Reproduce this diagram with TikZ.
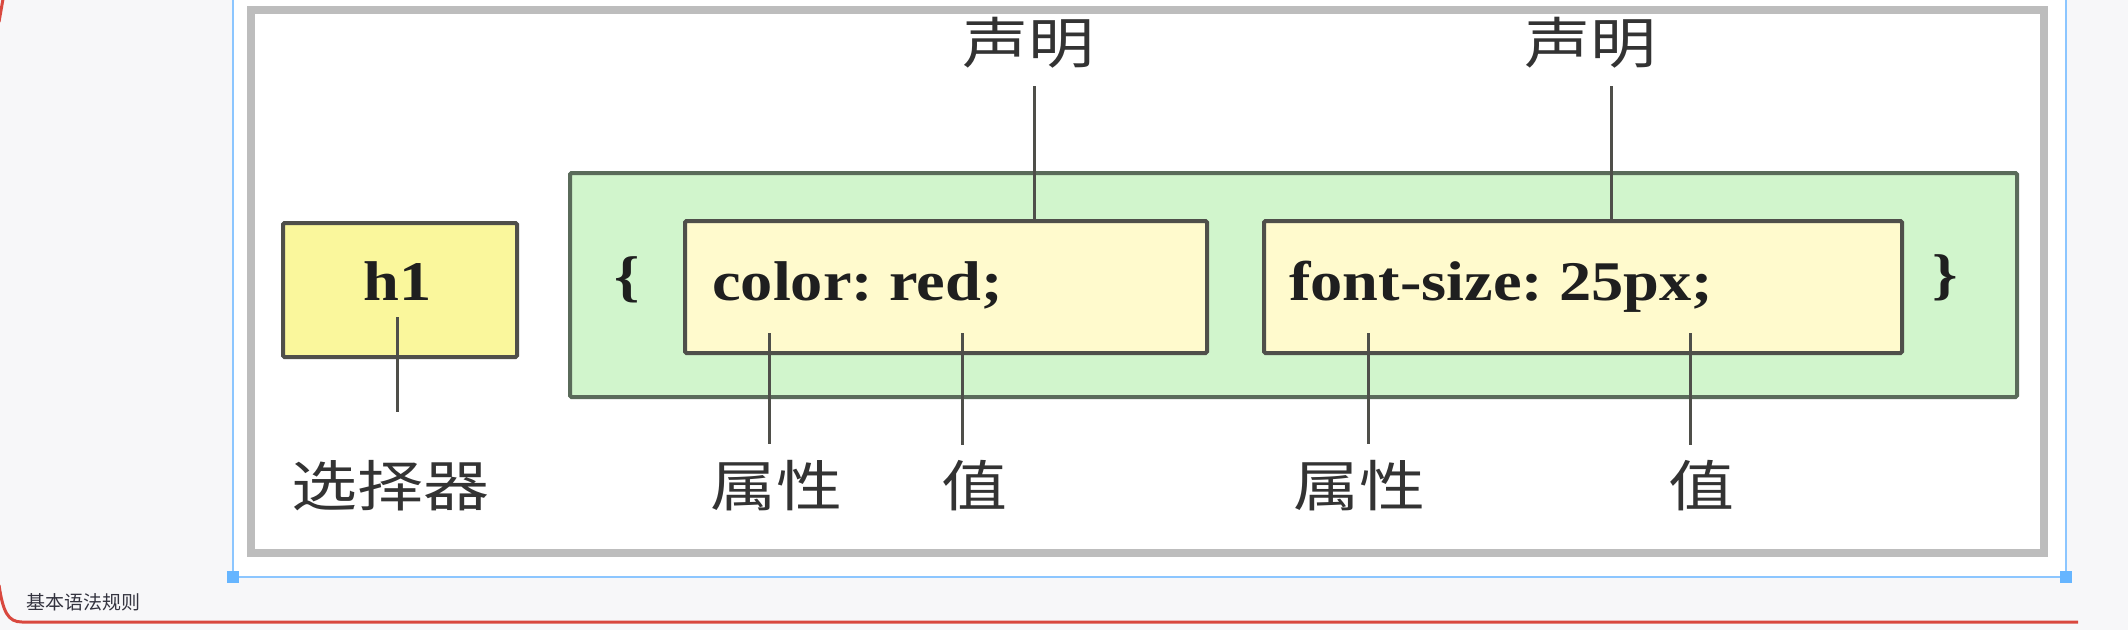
\documentclass[tikz,border=0pt]{standalone}
\usepackage{fontspec}
\newfontfamily\codefont{Liberation Serif}[FakeStretch=1.15]
\newfontfamily\cjk{Noto Sans CJK SC}[FakeStretch=1.2]
\newfontfamily\uifont{Noto Sans CJK SC}
\frenchspacing
\definecolor{pagebg}{HTML}{F7F7F9}
\definecolor{selblue}{HTML}{8CC6FF}
\definecolor{handleblue}{HTML}{66B5FF}
\definecolor{framegray}{HTML}{BDBDBD}
\definecolor{h1yellow}{HTML}{FAF79C}
\definecolor{declyellow}{HTML}{FFFACD}
\definecolor{rulegreen}{HTML}{D1F5CC}
\definecolor{rulegreenline}{HTML}{5A6B5A}
\definecolor{boxline}{HTML}{4F4F4A}
\definecolor{captionred}{HTML}{D9483F}
\definecolor{captiontext}{HTML}{33333F}
\begin{document}
\begin{tikzpicture}[x=1pt,y=-1pt]
	\def \declrow{43}
	\def \baserow{300}
	\def \labelrow{486}
	\tikzstyle{sel-box}=[draw=boxline,line width=4pt,fill=h1yellow,minimum width=234pt,minimum height=134pt,rounded corners=1.5pt]
	\tikzstyle{decl-box}=[draw=boxline,line width=4pt,fill=declyellow,minimum height=132pt,rounded corners=1.5pt]
	\tikzstyle{rule-box}=[draw=rulegreenline,line width=4pt,fill=rulegreen,minimum width=1447pt,minimum height=224pt,rounded corners=1.5pt]
	\tikzstyle{code-text}=[font=\codefont\bfseries\fontsize{56}{60}\selectfont,text=black!88,inner sep=0pt]
	\tikzstyle{annot}=[font=\cjk\fontsize{55}{60}\selectfont,text=black!80,inner sep=0pt]
	\tikzstyle{link}=[draw=boxline,line width=3pt]
	\useasboundingbox (0,0) rectangle (2128,630);
	% page and selection
	\fill[pagebg] (0,0) rectangle (2128,630);
	\fill[white] (233,0) rectangle (2066,577);
	\draw[selblue,line width=2pt] (233,0) -- (233,577) -- (2066,577) -- (2066,0);
	\fill[handleblue] (227,571) rectangle (239,583);
	\fill[handleblue] (2060,571) rectangle (2072,583);
	\draw[captionred,line width=3pt] (3,-1) .. controls (1,10) .. (-1,22);
	\draw[captionred,line width=3pt] (-1,585) .. controls (3,612) and (8,622) .. (22,622) -- (2078,622);
	\node[font=\uifont\fontsize{19}{22}\selectfont,text=captiontext,anchor=west,inner sep=0pt] (caption) at (26,602) {基本语法规则};
	\draw[framegray,line width=8pt,fill=white] (251,10) rectangle (2044,553);
	
	% boxes
	\node[rule-box] 	(rule)	at (1293.5,285)	{};
	\node[sel-box] 	(sel)	at (400,290)	{};
	\node[decl-box,minimum width=522pt] 	(decl1box)	at (946,287)	{};
	\node[decl-box,minimum width=638pt] 	(decl2box)	at (1583,287)	{};
	
	% code
	\node[code-text,anchor=base] 	(h1)	at (398,\baserow)	{h1};
	\node[code-text,anchor=base west] 	(decl1txt)	at (712,\baserow)	{color: red;};
	\node[code-text,anchor=base west] 	(decl2txt)	at (1289,\baserow)	{font-size: 25px;};
	\node[code-text] 	(lbrace)	at (627,280)	{\{};
	\node[code-text] 	(rbrace)	at (1945,278)	{\}};
	
	% labels
	\node[annot] 	(decl1)	at (1028,\declrow)	{声明};
	\node[annot] 	(decl2)	at (1590,\declrow)	{声明};
	\node[annot] 	(sel-label)	at (390,\labelrow)	{选择器};
	\node[annot] 	(prop1)	at (776,\labelrow)	{属性};
	\node[annot] 	(val1)	at (974,\labelrow)	{值};
	\node[annot] 	(prop2)	at (1359,\labelrow)	{属性};
	\node[annot] 	(val2)	at (1701,\labelrow)	{值};
	
	\coordinate (decl1top) at (1034,86);
	\coordinate (decl2top) at (1611,86);
	\coordinate (seltop) at (397,317);
	\coordinate (prop1top) at (769,333);
	\coordinate (val1top) at (962,333);
	\coordinate (prop2top) at (1368,333);
	\coordinate (val2top) at (1690,333);
	
	\path[link]
		(decl1top)	edge	(decl1top |- decl1box.north)
		(decl2top)	edge	(decl2top |- decl2box.north)
		(seltop)	edge[shorten >=48pt]	(seltop |- sel-label.north)
		(prop1top)	edge[shorten >=16pt]	(prop1top |- prop1.north)
		(val1top)	edge[shorten >=16pt]	(val1top |- val1.north)
		(prop2top)	edge[shorten >=16pt]	(prop2top |- prop2.north)
		(val2top)	edge[shorten >=16pt]	(val2top |- val2.north);
		
\end{tikzpicture}
\end{document}
